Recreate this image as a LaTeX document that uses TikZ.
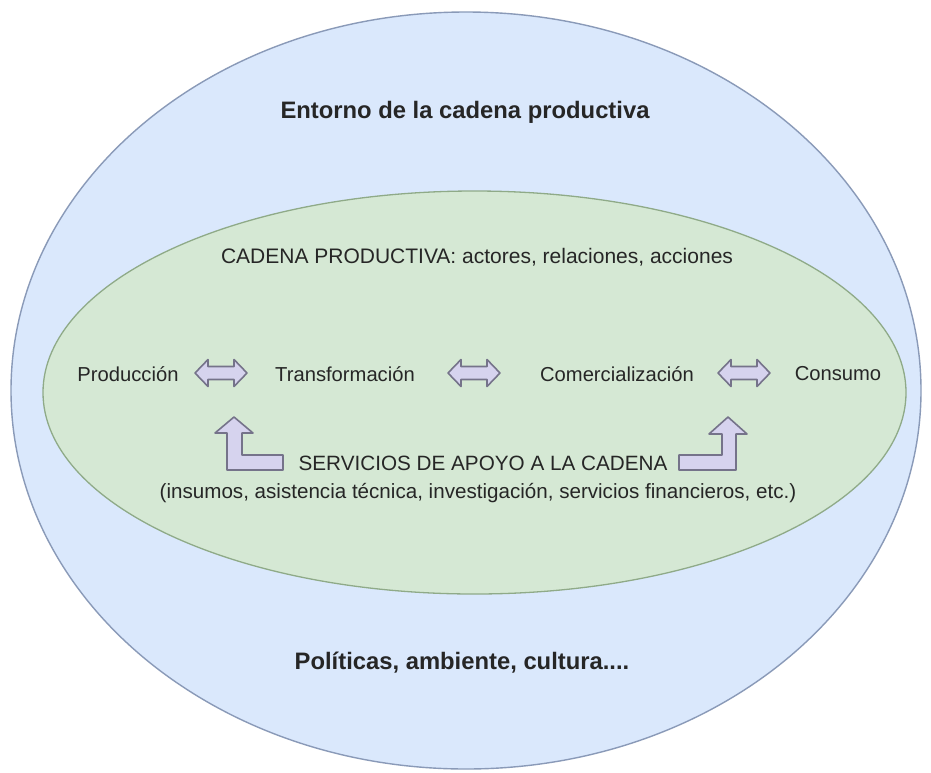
\documentclass[tikz,border=0pt]{standalone}
\usepackage{fontspec}
\setmainfont{Liberation Sans}
\definecolor{outfill}{HTML}{DAE8FC}
\definecolor{outdraw}{HTML}{8A9AB8}
\definecolor{infill}{HTML}{D5E8D4}
\definecolor{indraw}{HTML}{8FAA88}
\definecolor{arfill}{HTML}{D6D3EE}
\definecolor{ardraw}{HTML}{75738A}
\definecolor{txt}{HTML}{262626}
\tikzset{
  lbl/.style={text=txt, inner sep=0pt, anchor=center, font=\fontsize{20.2}{24}\selectfont},
  bigbold/.style={text=txt, inner sep=0pt, anchor=center, font=\fontsize{23.8}{28}\selectfont\bfseries},
  arrowshape/.style={fill=arfill, draw=ardraw, line width=1.6pt, line join=round},
}
\newcommand\dblarr[2]{%
  \draw[arrowshape] (#1-26,#2) -- (#1-13,#2-13.5) -- (#1-13,#2-6.5) -- (#1+13,#2-6.5) -- (#1+13,#2-13.5)
    -- (#1+26,#2) -- (#1+13,#2+13.5) -- (#1+13,#2+6.5) -- (#1-13,#2+6.5) -- (#1-13,#2+13.5) -- cycle;}
\begin{document}
\begin{tikzpicture}[x=1pt,y=-1pt]
\useasboundingbox[fill=white] (0,0) rectangle (931,772);
% outer ellipse
\draw[fill=outfill, draw=outdraw, line width=1.4pt] (466,390.5) ellipse [x radius=455, y radius=378.5];
% inner ellipse
\draw[fill=infill, draw=indraw, line width=1.3pt] (474.5,392.5) ellipse [x radius=431.5, y radius=201.5];
% texts
\node[bigbold] (entorno) at (465,112) {Entorno de la cadena productiva};
\node[bigbold] (politicas) at (462,663) {Políticas, ambiente, cultura....};
\node[lbl, font=\fontsize{21}{24}\selectfont] (cadena) at (477,257) {CADENA PRODUCTIVA: actores, relaciones, acciones};
\node[lbl] (prod) at (128,374) {Producción};
\node[lbl] (trans) at (345,374) {Transformación};
\node[lbl] (comer) at (617,374) {Comercialización};
\node[lbl] (cons) at (838,374) {Consumo};
\node[lbl, font=\fontsize{20.7}{24}\selectfont] (serv) at (483,463) {SERVICIOS DE APOYO A LA CADENA};
\node[lbl, font=\fontsize{20.6}{24}\selectfont] (insumos) at (478,493) {(insumos, asistencia técnica, investigación, servicios financieros, etc.)};
% double arrows
\dblarr{221}{373}
\dblarr{474}{373}
\dblarr{744}{373}
% L arrows
\draw[arrowshape] (234,417) -- (253,433) -- (242,433) -- (242,455) -- (283,455) -- (283,470) -- (227,470) -- (227,433) -- (215,433) -- cycle;
\draw[arrowshape] (728,417) -- (747,434) -- (736,434) -- (736,470) -- (679,470) -- (679,455) -- (722,455) -- (722,434) -- (709,434) -- cycle;
\end{tikzpicture}
\end{document}
